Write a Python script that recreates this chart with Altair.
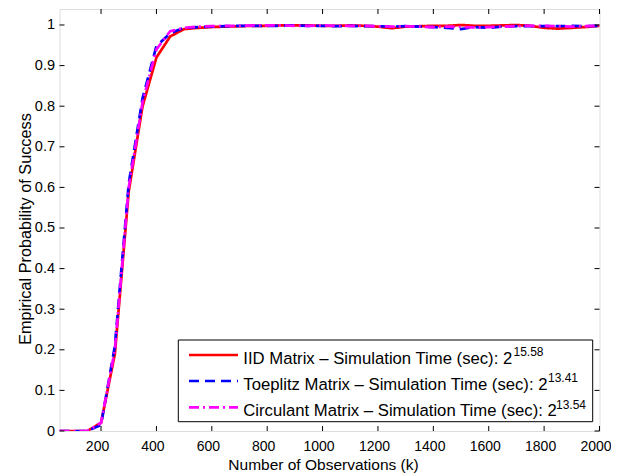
import altair as alt
import pandas as pd

# ---------------- data ----------------
x_obs = [50, 100, 150, 200, 250, 300, 350, 400, 450, 500,
         550, 600, 650, 700, 750, 800, 850, 900, 950, 1000,
         1050, 1100, 1150, 1200, 1250, 1300, 1350, 1400, 1450, 1500,
         1550, 1600, 1650, 1700, 1750, 1800, 1850, 1900, 1950, 2000]

iid = [0, 0, 0, 0.02, 0.19, 0.59, 0.80, 0.92, 0.972, 0.99,
       0.993, 0.995, 0.996, 0.997, 0.998, 0.998, 0.999, 0.999, 0.999, 0.998,
       0.998, 0.999, 0.998, 0.996, 0.992, 0.996, 0.997, 0.998, 0.998, 1.0,
       0.998, 0.998, 0.999, 1.0, 0.998, 0.993, 0.991, 0.993, 0.995, 0.998]

toeplitz = [0, 0, 0, 0.015, 0.21, 0.61, 0.82, 0.948, 0.98, 0.993,
            0.995, 0.996, 0.997, 0.998, 0.998, 0.998, 0.998, 0.999, 0.998, 0.998,
            0.997, 0.998, 0.997, 0.997, 0.996, 0.997, 0.996, 0.995, 0.993, 0.990,
            0.995, 0.993, 0.996, 0.997, 0.997, 0.997, 0.997, 0.998, 0.997, 0.998]

circulant = [0, 0, 0, 0.02, 0.20, 0.60, 0.81, 0.94, 0.985, 0.993,
             0.996, 0.997, 0.998, 0.998, 0.999, 0.999, 0.999, 0.998, 0.998, 0.999,
             0.998, 0.998, 0.998, 0.997, 0.996, 0.997, 0.996, 0.995, 0.996, 0.995,
             0.994, 0.995, 0.996, 0.997, 0.998, 0.998, 0.997, 0.996, 0.997, 0.998]

series_names = ["IID Matrix", "Toeplitz Matrix", "Circulant Matrix"]
series_values = [iid, toeplitz, circulant]
sim_exponents = ["15.58", "13.41", "13.54"]
series_colors = ["#ff0000", "#0000ff", "#ff00ff"]
series_dashes = [[1, 0], [10, 6], [10, 4, 2, 4]]

x_ticks = [200, 400, 600, 800, 1000, 1200, 1400, 1600, 1800, 2000]
y_ticks = [0, 0.1, 0.2, 0.3, 0.4, 0.5, 0.6, 0.7, 0.8, 0.9, 1]

# ---------------- layout ----------------
W, H = 540, 422
FONT = "Liberation Sans"

xscale = alt.Scale(domain=[50, 2000], nice=False, zero=False)
yscale = alt.Scale(domain=[0, 1.0394], nice=False, zero=False)

x_axis = alt.Axis(values=x_ticks, format="d", title="Number of Observations (k)", grid=False,
                  domain=False, ticks=False, labelPadding=8, labelFontSize=14,
                  labelOffset=-4, labelFont=FONT, labelColor="black",
                  titleFont=FONT, titleFontSize=15.5, titleFontWeight="normal", titleColor="black",
                  titleX=263.5, titleY=38, titleAlign="center", titleBaseline="alphabetic",
                  labelFlush=False, labelOverlap=False)
y_axis = alt.Axis(values=y_ticks, format="~g", title="Empirical Probability of Success",
                  grid=False, domain=False, ticks=False, labelPadding=5, labelFontSize=14.5,
                  labelFont=FONT, labelColor="black", titleFont=FONT, titleFontSize=16.3,
                  titleFontWeight="normal", titleColor="black",
                  titleX=-34.5, titleY=219.5, titleAlign="center", titleBaseline="middle",
                  labelFlush=False, labelOverlap=False)

X = alt.X("k:Q", scale=xscale, axis=x_axis)
Y = alt.Y("p:Q", scale=yscale, axis=y_axis)

layers = []
for name, vals, col, dash in zip(series_names, series_values, series_colors, series_dashes):
    d = pd.DataFrame({"k": x_obs, "p": vals})
    layers.append(
        alt.Chart(d).mark_line(color=col, strokeWidth=2.7, strokeDash=dash, clip=True)
        .encode(x=X, y=Y)
    )

xt = pd.DataFrame({"k": x_ticks})
yt = pd.DataFrame({"p": y_ticks})
tick_style = dict(color="black", strokeWidth=1)
layers += [
    alt.Chart(xt).mark_rule(**tick_style).encode(x=X, y=alt.value(H), y2=alt.value(H - 5)),
    alt.Chart(xt).mark_rule(**tick_style).encode(x=X, y=alt.value(0), y2=alt.value(5)),
    alt.Chart(yt).mark_rule(**tick_style).encode(y=Y, x=alt.value(0), x2=alt.value(5)),
    alt.Chart(yt).mark_rule(**tick_style).encode(y=Y, x=alt.value(W), x2=alt.value(W - 5)),
]

# ---------------- legend (drawn by hand for the superscripts) ----------------
one = pd.DataFrame({"a": [0]})
layers.append(
    alt.Chart(one).mark_rect(fill="white", stroke="black", strokeWidth=1).encode(
        x=alt.value(118.8), x2=alt.value(533.2), y=alt.value(331), y2=alt.value(412.7))
)
row_line_y = [346, 372, 398.3]
row_text_y = [355.3, 381.2, 407.2]
sup_x = [454, 488.5, 496.5]
sup_y = [347, 373, 399.5]
for i, (name, col, dash, ex) in enumerate(zip(series_names, series_colors, series_dashes, sim_exponents)):
    layers.append(
        alt.Chart(one).mark_rule(color=col, strokeWidth=2.7, strokeDash=dash).encode(
            x=alt.value(129.5), x2=alt.value(178.5), y=alt.value(row_line_y[i]))
    )
    layers.append(
        alt.Chart(one).mark_text(align="left", baseline="alphabetic", fontSize=16.7,
                                 font=FONT, color="black").encode(
            x=alt.value(183.8), y=alt.value(row_text_y[i]),
            text=alt.value(f"{name} \u2013 Simulation Time (sec): 2"))
    )
    layers.append(
        alt.Chart(one).mark_text(align="left", baseline="alphabetic", fontSize=12,
                                 font=FONT, color="black").encode(
            x=alt.value(sup_x[i]), y=alt.value(sup_y[i]), text=alt.value(ex))
    )

chart = alt.layer(*layers).properties(
    width=W, height=H,
    autosize=alt.AutoSizeParams(type="none"),
    padding={"left": 51.5, "top": 1, "right": 11.5, "bottom": 42},
).configure_view(stroke="black", strokeWidth=1).configure(background="white")

chart.save("out.html", embed_options={"renderer": "svg", "actions": False})
